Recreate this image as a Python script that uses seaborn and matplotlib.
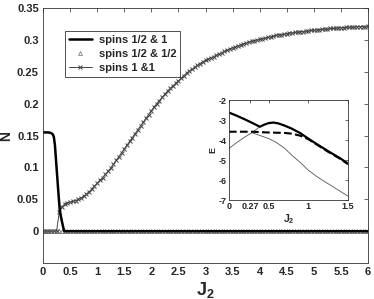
import numpy as np
import matplotlib
matplotlib.use("Agg")
import matplotlib.pyplot as plt
import seaborn as sns

sns.set_style("white")
plt.rcParams['font.family'] = ['Liberation Sans', 'DejaVu Sans']
plt.rcParams['font.weight'] = 'bold'
plt.rcParams['mathtext.fontset'] = 'custom'
plt.rcParams['mathtext.bf'] = 'Liberation Sans:bold'
plt.rcParams['mathtext.rm'] = 'Liberation Sans'
plt.rcParams['axes.unicode_minus'] = False
plt.rcParams['xtick.direction'] = 'in'
plt.rcParams['ytick.direction'] = 'in'

# ---- main panel data ----
# spins 1/2 & 1 (thick solid)
j_half_one = [0, 0.1, 0.15, 0.18, 0.2, 0.22, 0.25, 0.28, 0.31, 0.35, 0.39, 6.0]
n_half_one = [0.155, 0.155, 0.154, 0.152, 0.148, 0.135, 0.10, 0.065, 0.032, 0.015, 0.0, 0.0]

# sample grid of the marker series
j_grid = np.round(np.arange(0, 6.001, 0.05), 2)

# spins 1/2 & 1/2 (triangles, zero everywhere)
n_half_half = [0.0] * len(j_grid)

# spins 1 & 1 (thin line with x markers)
n_one_one = [
    0, 0, 0, 0, 0, 0, 0.030, 0.038, 0.043, 0.045,
    0.046, 0.047, 0.048, 0.050, 0.052, 0.055, 0.058, 0.062, 0.066, 0.071,
    0.075, 0.080, 0.084, 0.089, 0.094, 0.099, 0.105, 0.111, 0.117, 0.123,
    0.129, 0.135, 0.141, 0.147, 0.153, 0.159, 0.165, 0.171, 0.177, 0.183,
    0.189, 0.195, 0.200, 0.205, 0.210, 0.215, 0.220, 0.224, 0.228, 0.232,
    0.236, 0.240, 0.244, 0.248, 0.251, 0.254, 0.257, 0.260, 0.263, 0.266,
    0.268, 0.270, 0.272, 0.274, 0.276, 0.278, 0.280, 0.282, 0.284, 0.286,
    0.288, 0.289, 0.291, 0.292, 0.294, 0.295, 0.297, 0.298, 0.299, 0.300,
    0.301, 0.302, 0.303, 0.304, 0.305, 0.306, 0.307, 0.308, 0.308, 0.309,
    0.310, 0.311, 0.311, 0.312, 0.312, 0.313, 0.313, 0.314, 0.314, 0.315,
    0.315, 0.316, 0.316, 0.317, 0.317, 0.317, 0.318, 0.318, 0.318, 0.319,
    0.319, 0.319, 0.320, 0.320, 0.320, 0.320, 0.321, 0.321, 0.321, 0.321,
    0.322,
]

# ---- inset data ----
ins_j_solid = [0, 0.1, 0.2, 0.3, 0.39, 0.45, 0.5, 0.56, 0.62, 0.7, 0.79, 0.9, 1.0, 1.1, 1.25, 1.4, 1.5]
ins_e_solid = [-2.62, -2.78, -2.96, -3.15, -3.33, -3.22, -3.15, -3.12, -3.16, -3.27, -3.42, -3.65, -3.92, -4.18, -4.55, -4.9, -5.17]
ins_j_dash = [0, 0.29, 0.4, 0.5, 0.6, 0.7, 0.8, 0.9, 1.0, 1.1, 1.25, 1.4, 1.5]
ins_e_dash = [-3.58, -3.58, -3.6, -3.62, -3.63, -3.64, -3.68, -3.78, -3.95, -4.2, -4.58, -4.93, -5.2]
ins_j_thin = [0, 0.1, 0.2, 0.29, 0.4, 0.5, 0.6, 0.7, 0.8, 0.9, 1.0, 1.1, 1.2, 1.3, 1.4, 1.5]
ins_e_thin = [-4.42, -4.12, -3.85, -3.63, -3.78, -3.92, -4.12, -4.4, -4.78, -5.12, -5.5, -5.8, -6.06, -6.3, -6.55, -6.8]
ins_j_link = [0.29, 0.39]
ins_e_link = [-3.63, -3.33]

fig = plt.figure(figsize=(3.74, 2.99), dpi=100)
ax = fig.add_axes([0.115, 0.12, 0.869, 0.853])

sns.lineplot(x=j_grid, y=n_one_one, ax=ax, color='#444444', lw=0.7,
             marker='x', markersize=3.2, markeredgewidth=0.7,
             markeredgecolor='#444444', label='spins 1 &1')
sns.lineplot(x=j_grid, y=n_half_half, ax=ax, color='#666666', lw=0,
             marker='^', markersize=2.8, markerfacecolor='none',
             markeredgecolor='#666666', markeredgewidth=0.5, label='spins 1/2 & 1/2')
sns.lineplot(x=j_half_one, y=n_half_one, ax=ax, color='black', lw=1.8,
             label='spins 1/2 & 1', sort=False)

ax.set_xlim(0, 6)
ax.set_ylim(-0.05, 0.35)
ax.set_xticks(np.arange(0, 6.01, 0.5))
ax.set_xticklabels(['0', '0.5', '1', '1.5', '2', '2.5', '3', '3.5', '4', '4.5', '5', '5.5', '6'],
                   fontweight='bold')
ax.set_yticks([0, 0.05, 0.1, 0.15, 0.2, 0.25, 0.3, 0.35])
ax.set_yticklabels(['0', '0.05', '0.1', '0.15', '0.2', '0.25', '0.3', '0.35'],
                   fontweight='bold')
ax.tick_params(labelsize=8, length=3, width=0.5, top=True, right=True, pad=3)
for s in ax.spines.values():
    s.set_linewidth(0.6)
    s.set_color('#333333')
ax.set_xlabel(r'$\mathbf{J_2}$', fontsize=13, labelpad=2)
ax.set_ylabel('N', fontsize=10, fontweight='bold', labelpad=3)

handles, labels = ax.get_legend_handles_labels()
order = [2, 1, 0]
leg = ax.legend([handles[i] for i in order], [labels[i] for i in order],
                loc='upper left', bbox_to_anchor=(0.05, 0.93), fontsize=8,
                frameon=True, fancybox=False, edgecolor='black',
                borderpad=0.35, labelspacing=0.35, handlelength=2.1, handletextpad=0.6)
leg.get_frame().set_linewidth(0.6)
for t in leg.get_texts():
    t.set_fontweight('bold')

# ---- inset ----
ins = fig.add_axes([0.612, 0.331, 0.318, 0.334])
sns.lineplot(x=ins_j_thin, y=ins_e_thin, ax=ins, color='#555555', lw=0.6, sort=False)
sns.lineplot(x=ins_j_link, y=ins_e_link, ax=ins, color='#555555', lw=0.6, sort=False)
sns.lineplot(x=ins_j_dash, y=ins_e_dash, ax=ins, color='black', lw=1.5, ls='--',
             dashes=(3, 1.5), sort=False)
sns.lineplot(x=ins_j_solid, y=ins_e_solid, ax=ins, color='black', lw=1.6, sort=False)
ins.set_xlim(0, 1.5)
ins.set_ylim(-7, -2)
ins.set_xticks([0, 0.27, 0.5, 1, 1.5])
ins.set_xticklabels(['0', '0.27', '0.5', '1', '1.5'], fontweight='bold')
ins.set_yticks([-7, -6, -5, -4, -3, -2])
ins.set_yticklabels(['-7', '-6', '-5', '-4', '-3', '-2'], fontweight='bold')
ins.tick_params(labelsize=6.5, length=2, width=0.5, top=True, right=True, pad=1.5)
for s in ins.spines.values():
    s.set_linewidth(0.6)
    s.set_color('#333333')
ins.set_xlabel(r'$\mathbf{J_2}$', fontsize=7.5, labelpad=1)
ins.set_ylabel('E', fontsize=6.5, fontweight='bold', labelpad=1)

fig.savefig('out.png', dpi=100)
